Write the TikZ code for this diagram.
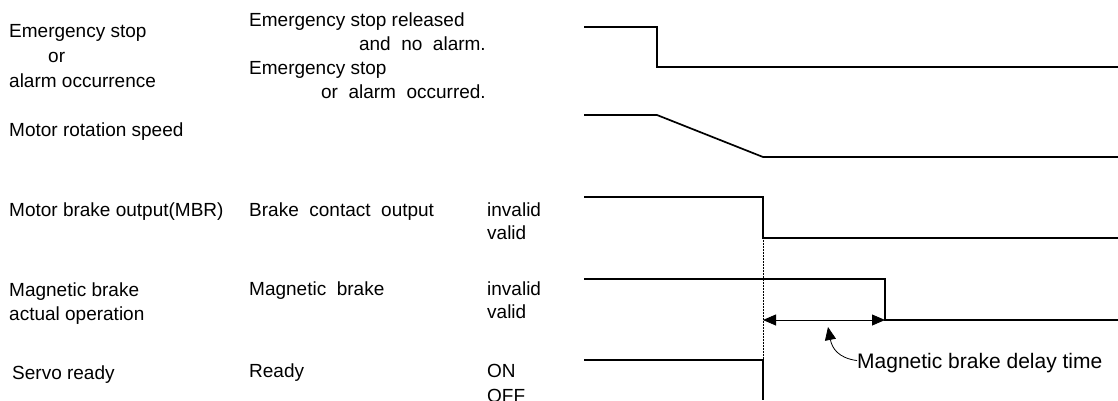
\documentclass[tikz,border=0pt]{standalone}
\usepackage{fontspec}
\setmainfont{Liberation Sans}
\usetikzlibrary{arrows.meta,positioning,calc}

\begin{document}
\begin{tikzpicture}[
  x=1pt, y=-1pt,
  lbl/.style={anchor=base west, inner sep=0pt, font=\fontsize{19}{21}\selectfont},
  wave/.style={line width=1.7pt, line join=miter},
  delay/.style={{Triangle[length=13pt,width=11pt]}-{Triangle[length=13pt,width=11pt]}, line width=0.8pt},
  callout/.style={-{Triangle[length=13pt,width=11pt]}, line width=0.8pt}
]
\useasboundingbox (0,0) rectangle (1118,400);

% signal names
\node[lbl] (n1a) at (9,37) {Emergency stop};
\node[lbl] (n1b) at (48,62) {or};
\node[lbl] (n1c) at (9,87) {alarm occurrence};
\node[lbl] (n2) at (9,136) {Motor rotation speed};
\node[lbl] (n3) at (9,216) {Motor brake output(MBR)};
\node[lbl] (n4a) at (9,296) {Magnetic brake};
\node[lbl] (n4b) at (9,320) {actual operation};
\node[lbl] (n5) at (12,379) {Servo ready};

% states
\node[lbl] (m1a) at (249,26) {Emergency stop released};
\node[lbl, anchor=base east] (m1b) at (486,50) {and\ \ no\ \ alarm.};
\node[lbl] (m1c) at (249,74) {Emergency stop};
\node[lbl, anchor=base east] (m1d) at (486,98) {or\ \ alarm\ \ occurred.};
\node[lbl] (m3) at (249,216) {Brake\ \ contact\ \ output};
\node[lbl] (m4) at (249,295) {Magnetic\ \ brake};
\node[lbl] (m5) at (249,377) {Ready};

\node[lbl] (v3a) at (487,216) {invalid};
\node[lbl] (v3b) at (487,239) {valid};
\node[lbl] (v4a) at (487,295) {invalid};
\node[lbl] (v4b) at (487,318) {valid};
\node[lbl] (v5a) at (487,377) {ON};
\node[lbl] (v5b) at (487,402) {OFF};

% waveforms
\draw[wave] (584,27) -- (657,27) -- (657,67) -- (1118,67);
\draw[wave] (584,115) -- (657,115) -- (763,157) -- (1118,157);
\draw[wave] (584,197) -- (763,197) -- (763,238) coordinate (off) -- (1118,238);
\draw[wave] (584,279) -- (885,279) -- (885,320) coordinate (brk) -- (1118,320);
\draw[wave] (584,360) -- (763,360) coordinate (rdy) -- (763,400);
\draw[densely dotted, line width=0.5pt] (off) -- (rdy);

% delay time
\coordinate (dly) at (off |- brk);
\draw[delay] (dly) -- (brk);
\node[lbl, font=\fontsize{21}{23}\selectfont] (dt) at (857,368) {Magnetic brake delay time};
\draw[callout] ($(dt.west)+(0,-2)$) .. controls (838,358) and (832,348) .. (828,327);
\end{tikzpicture}
\end{document}
